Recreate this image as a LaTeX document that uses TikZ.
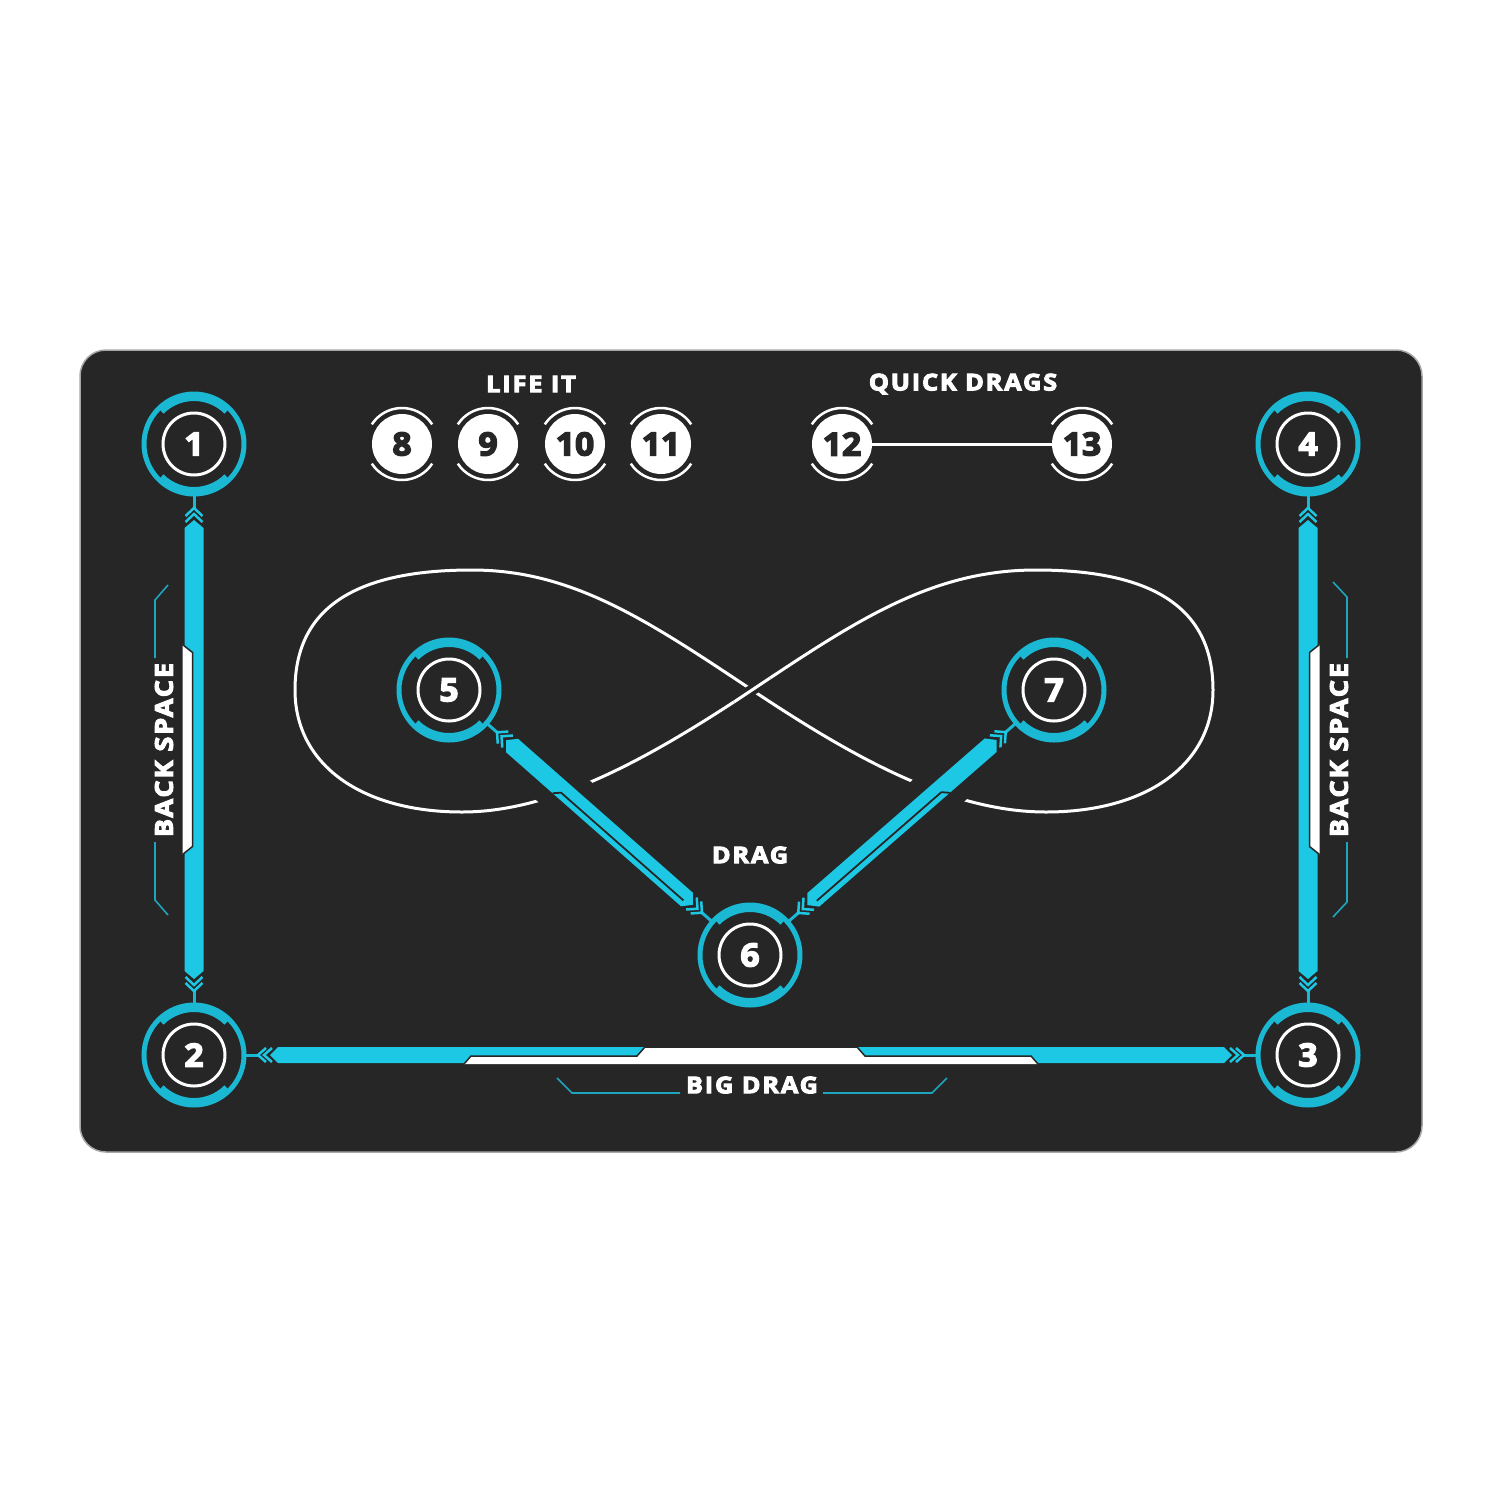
\documentclass[tikz,border=0pt]{standalone}
\usepackage{fontspec}
\setmainfont{Open Sans}
\newfontfamily\heavy{Open Sans}[UprightFont={* Bold}, FakeBold=4.5, FakeStretch=1.1, LetterSpace=8]
\newfontfamily\heavynum{Open Sans}[UprightFont={* Bold}, FakeBold=4.5, FakeStretch=1.05]
\usetikzlibrary{calc}
\pgfdeclarelayer{bg}
\pgfsetlayers{bg,main}
\definecolor{matbg}{HTML}{262626}
\definecolor{cyanbar}{HTML}{1CC8E4}
\definecolor{cyanring}{HTML}{1BB8D4}
\definecolor{decoc}{HTML}{1EA5BC}
\newdimen\bdx \newdimen\bdy
\def\bw{8.5}
\newcommand\cbar[3]{%
  \pgfmathanglebetweenpoints{\pgfpointanchor{#1}{center}}{\pgfpointanchor{#2}{center}}%
  \edef\barang{\pgfmathresult}%
  \pgfextractx{\bdx}{\pgfpointdiff{\pgfpointanchor{#1}{center}}{\pgfpointanchor{#2}{center}}}%
  \pgfextracty{\bdy}{\pgfpointdiff{\pgfpointanchor{#1}{center}}{\pgfpointanchor{#2}{center}}}%
  \pgfmathsetmacro\barlen{veclen(\bdx,\bdy)}%
  \begin{scope}[shift={(#1.center)}, rotate=\barang]
    \draw[cyanring, line width=3pt] (51,0) -- (66,0) ({\barlen-51},0) -- ({\barlen-66},0);
    \draw[cyanbar, line width=2.5pt] (72,-\bw+1) -- (64,0) -- (72,\bw-1) (78,-\bw+1) -- (70,0) -- (78,\bw-1);
    \draw[cyanbar, line width=2.5pt] ({\barlen-72},-\bw+1) -- ({\barlen-64},0) -- ({\barlen-72},\bw-1) ({\barlen-78},-\bw+1) -- ({\barlen-70},0) -- ({\barlen-78},\bw-1);
    \fill[cyanbar] (76,0) -- (84,-\bw) -- ({\barlen-84},-\bw) -- ({\barlen-76},0) -- ({\barlen-84},\bw) -- (84,\bw) -- cycle;
    #3
  \end{scope}}
\newcommand\numfont{\fontsize{32}{32}\selectfont\heavynum}
\newcommand\lblfont{\fontsize{23}{23}\selectfont\heavy}
\newcommand\bsfont{\fontsize{24.5}{24.5}\selectfont\heavy}
\begin{document}
\begin{tikzpicture}[x=1pt,y=-1pt,
  ring/.style={circle, draw=white, line width=3pt, minimum size=62pt, inner sep=0pt, text=white, font=\numfont},
  numw/.style={circle, fill=white, minimum size=60pt, inner sep=0pt, text=matbg, font=\numfont},
  lbl/.style={text=white, font=\lblfont, inner sep=0pt},
  deco/.style={draw=decoc, line width=1.6pt},
  infl/.style={draw=white, line width=3pt}]
\useasboundingbox (0,0) rectangle (1500,1500);
% nodes
\node[ring] (c1) at (194,444) {1};
\node[ring] (c2) at (194,1055) {2};
\node[ring] (c3) at (1308,1055) {3};
\node[ring] (c4) at (1308,444) {4};
\node[ring] (c5) at (449,690) {5};
\node[ring] (c6) at (750,955) {6};
\node[ring] (c7) at (1054,690) {7};
\node[numw] (n8) at (402,444) {8};
\node[numw] (n9) at (488,444) {9};
\node[numw] (n10) at (575,444) {10};
\node[numw] (n11) at (661,444) {11};
\node[numw] (n12) at (842,444) {12};
\node[numw] (n13) at (1082,444) {13};
\coordinate (C) at (752,690);
% rings
\foreach \n in {c1,c2,c3,c4,c5,c6,c7}{
  \draw[cyanring, line width=5pt] (\n.center) circle[radius=50pt];
  \draw[cyanring, line width=6pt] (\n.center) ++(45:46pt) arc[start angle=45, end angle=135, radius=46pt];
  \draw[cyanring, line width=6pt] (\n.center) ++(225:46pt) arc[start angle=225, end angle=315, radius=46pt];
}
\foreach \n in {n8,n9,n10,n11,n12,n13}{
  \draw[white, line width=2.5pt] (\n.center) ++(33:36pt) arc[start angle=33, end angle=147, radius=36pt];
  \draw[white, line width=2.5pt] (\n.center) ++(213:36pt) arc[start angle=213, end angle=327, radius=36pt];
}
\draw[white, line width=3pt] (n12) -- (n13);
% labels
\node[lbl] (lifeit) at (531,384) {LIFE IT};
\node[lbl] (quick) at (963,384) {QUICK DRAGS};
\node[lbl] (drag) at (750,855) {DRAG};
\node[lbl] (bigdrag) at (752,1085) {BIG DRAG};
\node[lbl, font=\bsfont, rotate=90] (bsl) at (164,750) {BACK SPACE};
\node[lbl, font=\bsfont, rotate=90] (bsr) at (1339,750) {BACK SPACE};
\begin{pgfonlayer}{bg}
\fill[white] (0,0) rectangle (1500,1500);
\filldraw[fill=matbg, draw=black!35, line width=1.5pt, rounded corners=26pt] (80,350) rectangle (1422,1152);
% infinity
\begin{scope}[shift={(C)}]
\draw[infl] (0,0) .. controls (-105,-70) and (-180,-120) .. (-280,-120)
  .. controls (-400,-120) and (-457,-80) .. (-457,0)
  .. controls (-457,75) and (-390,122) .. (-290,122)
  .. controls (-200,122) and (-105,70) .. (0,0)
  .. controls (105,-70) and (180,-120) .. (284,-120)
  .. controls (404,-120) and (461,-80) .. (461,0)
  .. controls (461,75) and (394,122) .. (294,122)
  .. controls (200,122) and (105,70) .. (0,0);
\draw[matbg, line width=11pt] (-18,12) -- (18,-12);
\draw[infl] (-18,12) -- (18,-12);
\end{scope}
\draw[matbg, line width=50pt] ($(c5)!110pt!(c6)$) -- ($(c6)!110pt!(c5)$);
\draw[matbg, line width=50pt] ($(c7)!110pt!(c6)$) -- ($(c6)!110pt!(c7)$);
% bars
\def\bw{9.5}
\cbar{c1}{c2}{%
  \fill[white] ({\barlen/2-105},11.5) -- ({\barlen/2-97},1.5) -- ({\barlen/2+97},1.5) -- ({\barlen/2+105},11.5) -- cycle;
  \draw[matbg, line width=1.5pt] ({\barlen/2-105},11.5) -- ({\barlen/2-97},1.5) -- ({\barlen/2+97},1.5) -- ({\barlen/2+105},11.5);}
\cbar{c3}{c4}{%
  \fill[white] ({\barlen/2-105},11.5) -- ({\barlen/2-97},1.5) -- ({\barlen/2+97},1.5) -- ({\barlen/2+105},11.5) -- cycle;
  \draw[matbg, line width=1.5pt] ({\barlen/2-105},11.5) -- ({\barlen/2-97},1.5) -- ({\barlen/2+97},1.5) -- ({\barlen/2+105},11.5);}
\def\bw{8}
\cbar{c2}{c3}{%
  \fill[white] ({\barlen/2-287},9) -- ({\barlen/2-280},1) -- ({\barlen/2-114},1) -- ({\barlen/2-106},-8) -- ({\barlen/2+106},-8) -- ({\barlen/2+114},1) -- ({\barlen/2+280},1) -- ({\barlen/2+287},9) -- cycle;
  \draw[matbg, line width=1.5pt] ({\barlen/2-287},9) -- ({\barlen/2-280},1) -- ({\barlen/2-114},1) -- ({\barlen/2-106},-8) -- ({\barlen/2+106},-8) -- ({\barlen/2+114},1) -- ({\barlen/2+280},1) -- ({\barlen/2+287},9);}
\def\bw{9}
\cbar{c5}{c6}{%
  \draw[matbg, line width=1.8pt] (146,9) -- (152,3) -- ({\barlen-86},3);}
\cbar{c6}{c7}{%
  \draw[matbg, line width=1.8pt] (86,3) -- ({\barlen-152},3) -- ({\barlen-146},9);}
% deco lines
\draw[deco] (168,585) -- (155,600) -- (155,658);
\draw[deco] (155,842) -- (155,900) -- (168,915);
\draw[deco] (1333,582) -- (1347,597) -- (1347,658);
\draw[deco] (1347,842) -- (1347,902) -- (1333,917);
\draw[deco] (557,1078) -- (572,1093) -- (680,1093);
\draw[deco] (823,1093) -- (932,1093) -- (947,1078);
\end{pgfonlayer}
\end{tikzpicture}
\end{document}
